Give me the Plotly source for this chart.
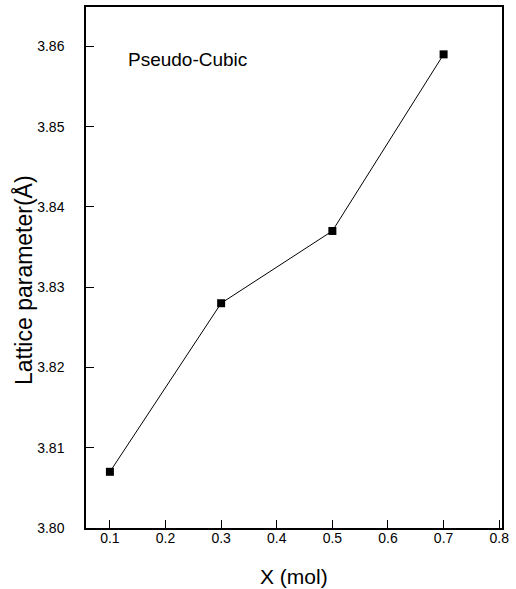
import plotly.graph_objects as go

x_mol = [0.1, 0.3, 0.5, 0.7]
lattice = [3.807, 3.828, 3.837, 3.859]

x_ticks = [0.1, 0.2, 0.3, 0.4, 0.5, 0.6, 0.7, 0.8]
x_ticktext = ["0.1", "0.2", "0.3", "0.4", "0.5", "0.6", "0.7", "0.8"]
y_ticks = [3.80, 3.81, 3.82, 3.83, 3.84, 3.85, 3.86]
y_ticktext = ["3.80", "3.81", "3.82", "3.83", "3.84", "3.85", "3.86"]

FONT = "Liberation Sans, Arial, sans-serif"

fig = go.Figure()
fig.add_trace(go.Scatter(
    x=x_mol, y=lattice, mode="lines+markers",
    line=dict(color="black", width=1),
    marker=dict(symbol="square", size=8, color="black"),
    showlegend=False,
))

axis_common = dict(
    showline=True, linecolor="black", linewidth=1.5, mirror=True,
    ticks="inside", ticklen=8, tickwidth=1.2, tickcolor="black",
    showgrid=False, zeroline=False, automargin=False,
    tickfont=dict(family=FONT, size=14, color="black"),
)

fig.update_layout(
    width=516, height=589,
    margin=dict(l=86, r=14, t=7, b=61),
    paper_bgcolor="white", plot_bgcolor="white",
    font=dict(family=FONT, color="black"),
    xaxis=dict(
        range=[0.057, 0.805],
        tickvals=x_ticks, ticktext=x_ticktext,
        ticklabelstandoff=-4,
        **axis_common,
    ),
    yaxis=dict(
        range=[3.80, 3.8649],
        tickvals=y_ticks, ticktext=y_ticktext,
        ticklabelstandoff=17,
        **axis_common,
    ),
    annotations=[
        dict(
            text="Pseudo-Cubic", x=0.1288, y=3.8584, xref="x", yref="y",
            xanchor="left", yanchor="middle", showarrow=False,
            font=dict(family=FONT, size=19, color="black"),
        ),
        dict(
            text="Lattice parameter(Å)", x=-0.1514, y=0.476,
            xref="paper", yref="paper", xanchor="center", yanchor="middle",
            textangle=-90, showarrow=False,
            font=dict(family=FONT, size=23, color="black"),
        ),
        dict(
            text="X (mol)", x=0.5, y=-0.094,
            xref="paper", yref="paper", xanchor="center", yanchor="middle",
            showarrow=False,
            font=dict(family=FONT, size=21, color="black"),
        ),
    ],
)

fig.write_html("out.html")
